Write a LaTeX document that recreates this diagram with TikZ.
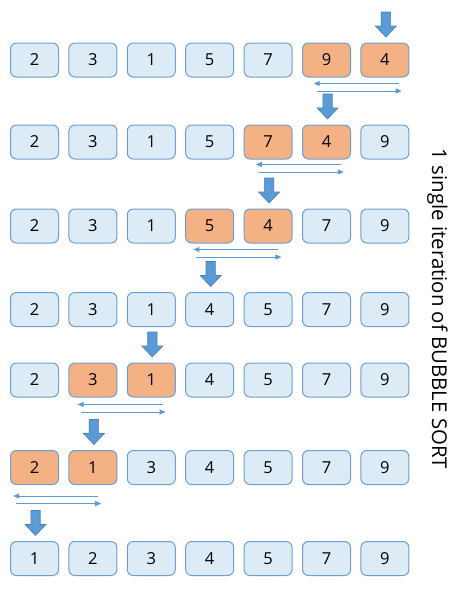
\documentclass[tikz,border=0pt]{standalone}
\usepackage{fontspec}
\setmainfont{Open Sans}
\usetikzlibrary{calc,arrows.meta}
\definecolor{cellblue}{HTML}{DDEBF7}
\definecolor{cellorange}{HTML}{F4B183}
\definecolor{boxline}{HTML}{6C9FD3}
\definecolor{markblue}{HTML}{5B9BD5}
\definecolor{markline}{HTML}{4A80B8}

\begin{document}
\begin{tikzpicture}[x=1pt, y=-1pt,
  cell/.style={draw=boxline, fill=cellblue, line width=1pt, rounded corners=6pt,
    minimum width=48pt, minimum height=34pt, inner sep=0pt,
    font=\fontsize{16.5}{20}\selectfont},
  hot/.style={cell, fill=cellorange},
  swapline/.style={markblue, line width=0.9pt, -{Triangle[length=6pt,width=5pt]}},
  downmark/.style={fill=markblue, draw=markline, line width=0.6pt}]
  \newcommand{\DownMark}[1]{%
    \filldraw[downmark, shift={($(#1.north)+(1,-5.5)$)}]
      (0,0) -- (-10.5,-11) -- (-4.7,-11) -- (-4.7,-25) -- (4.7,-25) -- (4.7,-11) -- (10.5,-11) -- cycle;%
  }
  \newcommand{\SwapMark}[4]{%
    \coordinate (#1#2m) at ($(#1.south)!0.5!(#2.south)+(#3,#4)$);
    \draw[swapline] ($(#1#2m)+(42.5,0)$) -- ($(#1#2m)+(-42.5,0)$);
    \draw[swapline] ($(#1#2m)+(-39.5,7.5)$) -- ($(#1#2m)+(45.5,7.5)$);%
  }
  \useasboundingbox (0,0) rectangle (461,592);
  % the seven rows of the array
  \foreach \v/\s [count=\c] in {2/cell,3/cell,1/cell,5/cell,7/cell,9/hot,4/hot}
    \node[\s] (r1c\c) at ({34.5+58.4*(\c-1)}, 60) {\v};
  \foreach \v/\s [count=\c] in {2/cell,3/cell,1/cell,5/cell,7/hot,4/hot,9/cell}
    \node[\s] (r2c\c) at ({34.5+58.4*(\c-1)}, 142) {\v};
  \foreach \v/\s [count=\c] in {2/cell,3/cell,1/cell,5/hot,4/hot,7/cell,9/cell}
    \node[\s] (r3c\c) at ({34.5+58.4*(\c-1)}, 226) {\v};
  \foreach \v/\s [count=\c] in {2/cell,3/cell,1/cell,4/cell,5/cell,7/cell,9/cell}
    \node[\s] (r4c\c) at ({34.5+58.4*(\c-1)}, 309.5) {\v};
  \foreach \v/\s [count=\c] in {2/cell,3/hot,1/hot,4/cell,5/cell,7/cell,9/cell}
    \node[\s] (r5c\c) at ({34.5+58.4*(\c-1)}, 380) {\v};
  \foreach \v/\s [count=\c] in {2/hot,1/hot,3/cell,4/cell,5/cell,7/cell,9/cell}
    \node[\s] (r6c\c) at ({34.5+58.4*(\c-1)}, 467.5) {\v};
  \foreach \v/\s [count=\c] in {1/cell,2/cell,3/cell,4/cell,5/cell,7/cell,9/cell}
    \node[\s] (r7c\c) at ({34.5+58.4*(\c-1)}, 558.5) {\v};
  % pointers
  \DownMark{r1c7}
  \DownMark{r2c6}
  \DownMark{r3c5}
  \DownMark{r4c4}
  \DownMark{r5c3}
  \DownMark{r6c2}
  \DownMark{r7c1}
  % swaps
  \SwapMark{r1c6}{r1c7}{0.5}{6}
  \SwapMark{r2c5}{r2c6}{1}{5}
  \SwapMark{r3c4}{r3c5}{-3}{6}
  \SwapMark{r5c2}{r5c3}{-2}{7}
  \SwapMark{r6c1}{r6c2}{-8}{11}
  \node[rotate=-90, anchor=base, font=\fontsize{20.4}{24}\selectfont] (title) at (432,309)
    {1 single iteration of BUBBLE SORT};
\end{tikzpicture}
\end{document}
